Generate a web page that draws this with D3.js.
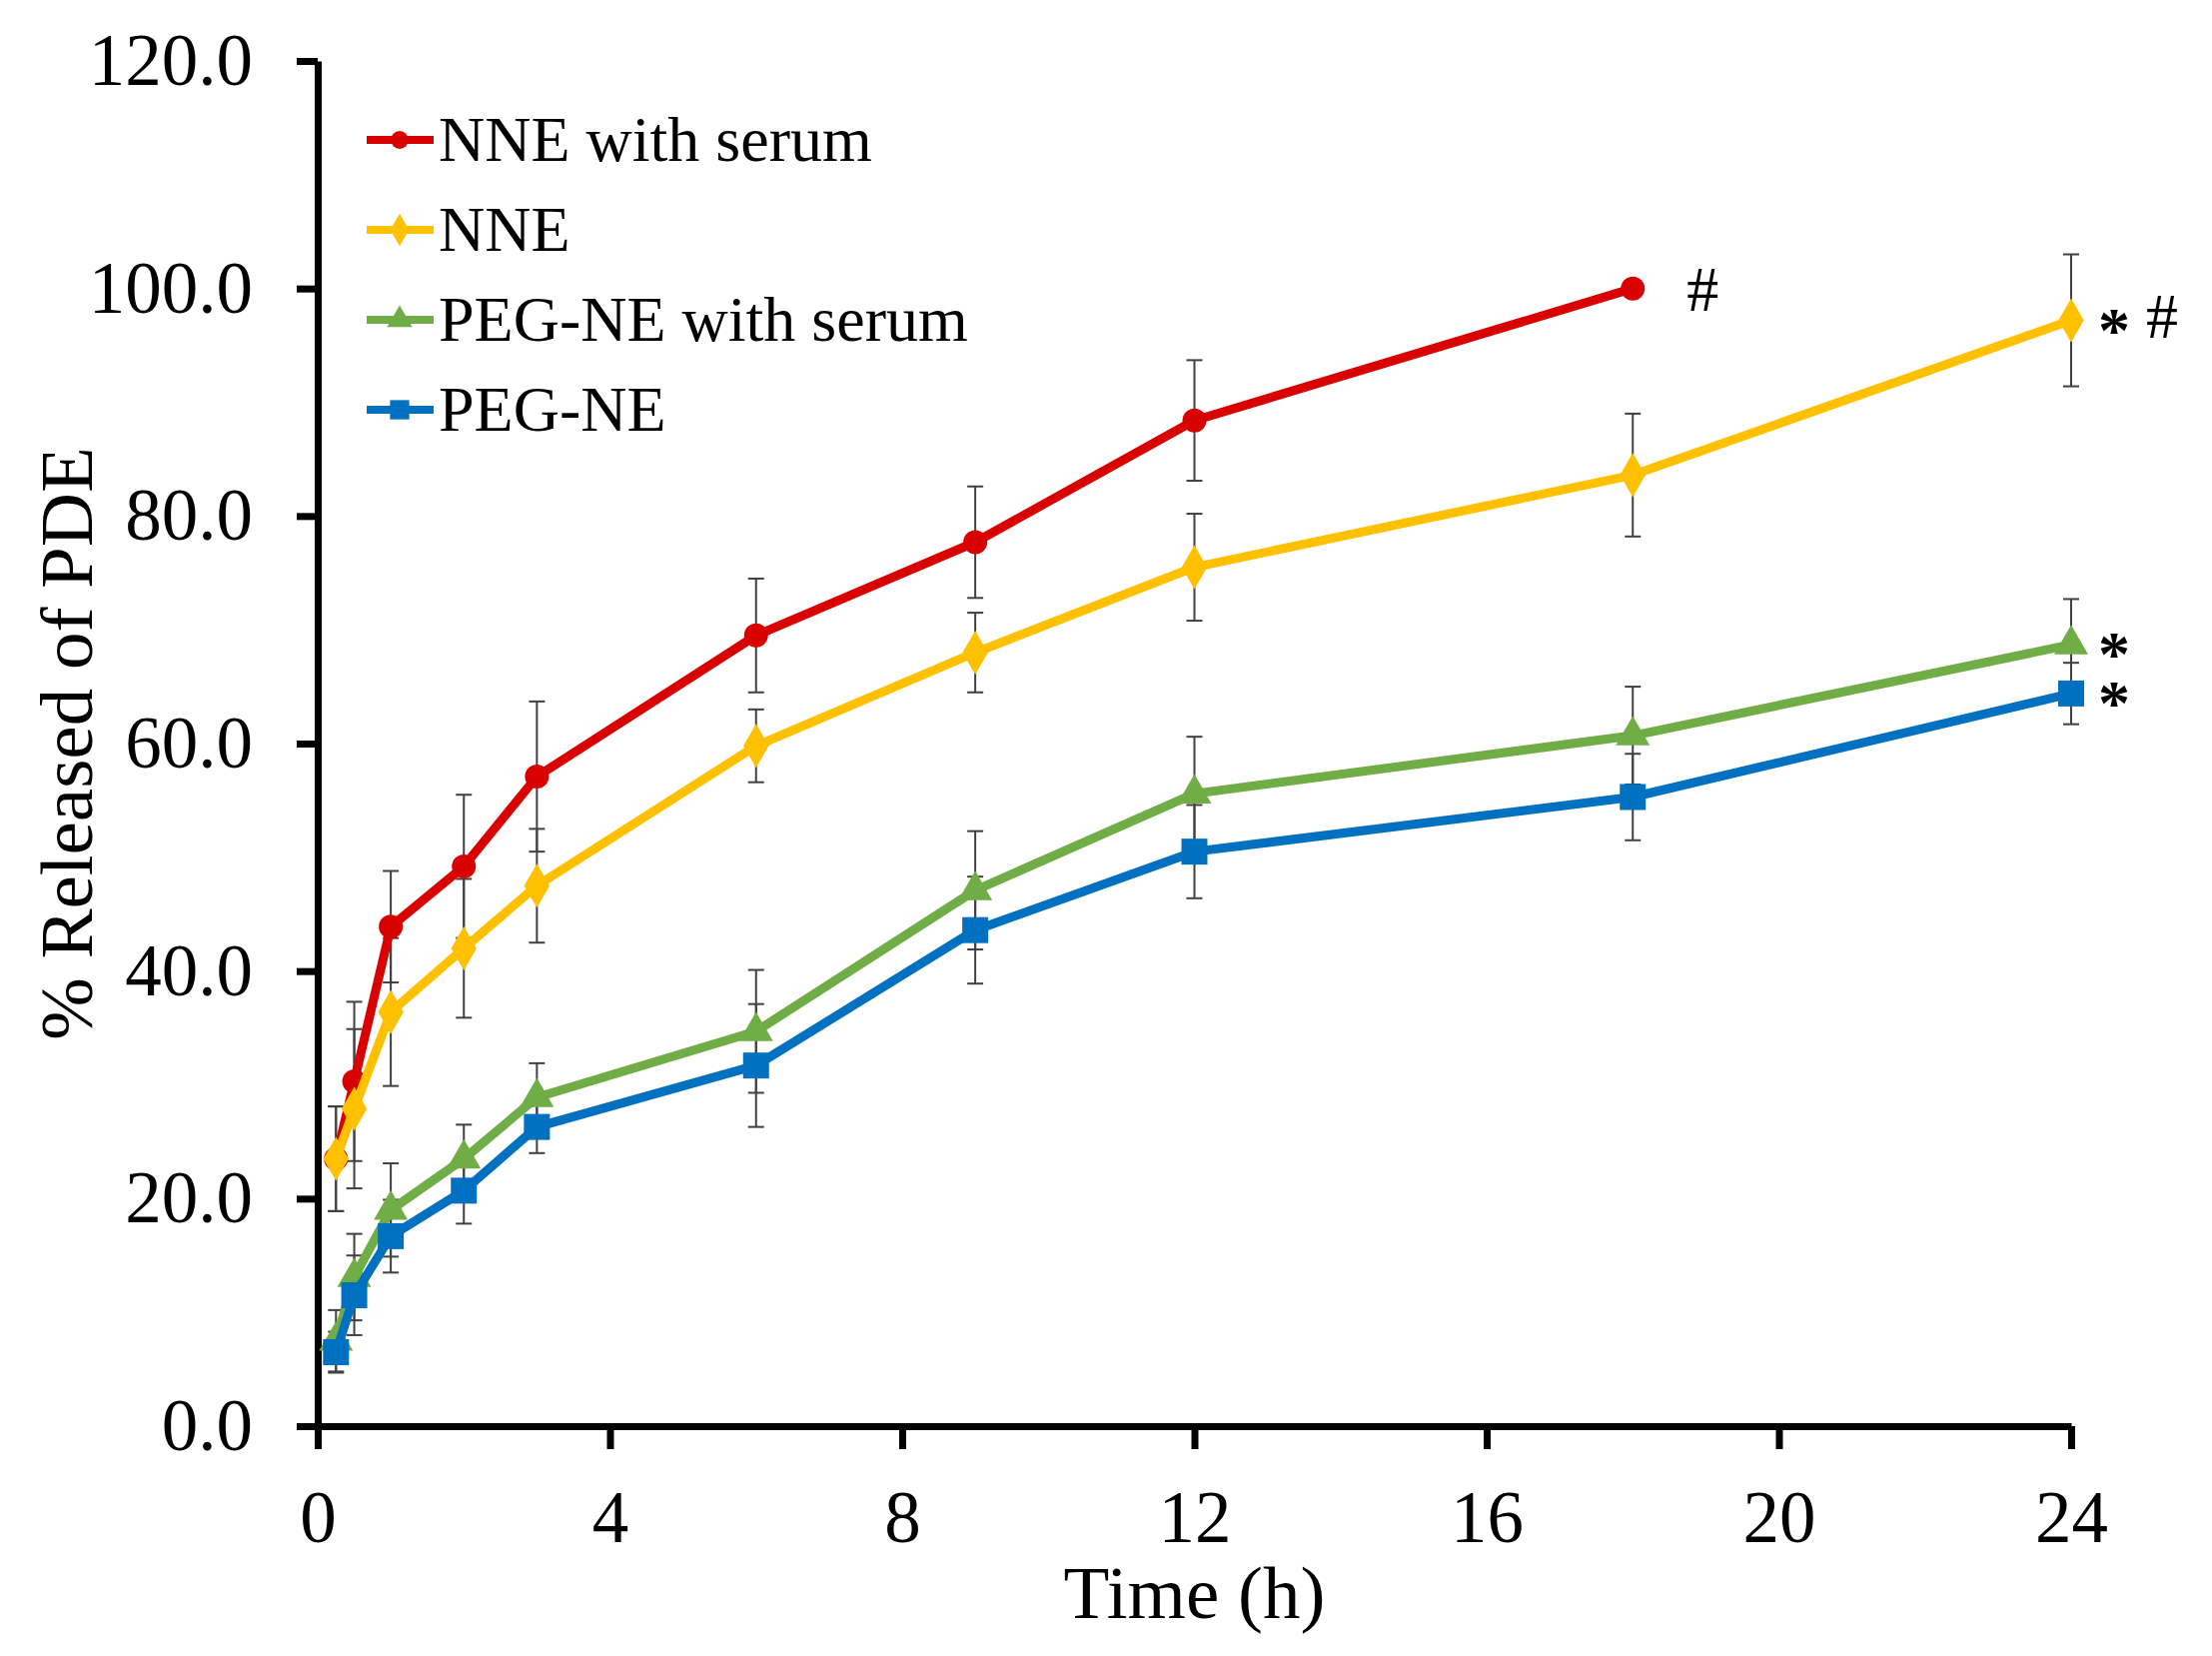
<!DOCTYPE html>
<html>
<head>
<meta charset="utf-8">
<script src="https://cdn.jsdelivr.net/npm/d3@7"></script>
<style>
  body { margin: 0; background: #fff; }
  svg { display: block; font-family: 'Liberation Serif', 'Times New Roman', serif; }
</style>
</head>
<body>
<script>
const w = 2214;
const h = 1657;

// sampling times (h)
const times = [0.25, 0.5, 1, 2, 3, 6, 9, 12, 18, 24];

const nneSerum = [23.5, 30.3, 43.9, 49.2, 57.1, 69.5, 77.7, 88.4, 100.0];
const nneSerumErr = [4.6, 7.0, 4.9, 6.3, 6.6, 5.0, 4.9, 5.3, 0];
const nne = [23.5, 27.9, 36.4, 42.0, 47.5, 59.8, 68.0, 75.5, 83.6, 97.2];
const nneErr = [4.6, 7.0, 6.5, 6.1, 5.0, 3.2, 3.5, 4.7, 5.4, 5.8];
const pegSerum = [7.5, 13.1, 19.0, 23.5, 28.9, 34.7, 47.1, 55.6, 60.7, 68.7];
const pegSerumErr = [2.7, 3.8, 4.1, 3.0, 3.0, 5.4, 5.2, 5.0, 4.3, 4.0];
const peg = [6.5, 11.5, 16.7, 20.7, 26.3, 31.7, 43.6, 50.5, 55.3, 64.4];
const pegErr = [1.8, 3.5, 3.2, 2.9, 2.3, 5.4, 4.7, 4.1, 3.8, 2.7];

const seriesNames = ['NNE with serum', 'NNE', 'PEG-NE with serum', 'PEG-NE'];
const seriesColors = ['#d90000', '#ffc000', '#70ad47', '#0070c0'];
const seriesSymbols = [d3.symbolCircle, d3.symbolDiamond, d3.symbolTriangle, d3.symbolSquare];
const seriesNotes = ['#', '* #', '*', '*'];

const xTicks = [0, 4, 8, 12, 16, 20, 24];
const yTicks = [0, 20, 40, 60, 80, 100, 120];

const series = [
  [nneSerum, nneSerumErr],
  [nne, nneErr],
  [pegSerum, pegSerumErr],
  [peg, pegErr],
].map(([vals, errs], i) => ({
  name: seriesNames[i],
  color: seriesColors[i],
  symbol: seriesSymbols[i],
  note: seriesNotes[i],
  points: vals.map((v, j) => ({ t: times[j], v, e: errs[j] })),
}));

const xScale = d3.scaleLinear().domain([0, 24]).range([318, 2073]);
const yScale = d3.scaleLinear().domain([0, 120]).range([1427, 61]);

const svg = d3
  .select('body')
  .append('svg')
  .attr('width', w)
  .attr('height', h);

svg.append('rect').attr('width', w).attr('height', h).attr('fill', '#fff');

// axes
const yAxis = d3
  .axisLeft(yScale)
  .tickValues(yTicks)
  .tickFormat(d3.format('.1f'))
  .tickSizeInner(21)
  .tickSizeOuter(0)
  .tickPadding(44);

const xAxis = d3
  .axisBottom(xScale)
  .tickValues(xTicks)
  .tickSizeInner(23)
  .tickSizeOuter(0)
  .tickPadding(41);

const gy = svg
  .append('g')
  .attr('transform', `translate(${xScale(0)},0)`)
  .call(yAxis);

const gx = svg
  .append('g')
  .attr('transform', `translate(0,${yScale(0)})`)
  .call(xAxis);

[gx, gy].forEach(g => {
  g.select('.domain').attr('stroke', '#000').attr('stroke-width', 7);
  g.selectAll('.tick line').attr('stroke', '#000').attr('stroke-width', 7);
  g.selectAll('.tick text')
    .attr('fill', '#000')
    .style('font-family', "'Liberation Serif', serif")
    .style('font-size', '73px');
});

// axis titles
svg
  .append('text')
  .attr('x', (xScale(0) + xScale(24)) / 2)
  .attr('y', 1619)
  .attr('text-anchor', 'middle')
  .style('font-size', '75px')
  .text('Time (h)');

svg
  .append('text')
  .attr('transform', `translate(92,${(yScale(0) + yScale(120)) / 2}) rotate(-90)`)
  .attr('text-anchor', 'middle')
  .style('font-size', '75px')
  .text('% Released of PDE');

// error bars, behind the lines
const errG = svg.append('g');
series.forEach(s => {
  const bars = errG
    .selectAll(null)
    .data(s.points.filter(p => p.e > 0))
    .enter()
    .append('g')
    .attr('stroke', '#404040')
    .attr('stroke-width', 2);
  bars
    .append('line')
    .attr('x1', d => xScale(d.t))
    .attr('x2', d => xScale(d.t))
    .attr('y1', d => yScale(d.v - d.e))
    .attr('y2', d => yScale(d.v + d.e));
  [-1, 1].forEach(sign => {
    bars
      .append('line')
      .attr('x1', d => xScale(d.t) - 8)
      .attr('x2', d => xScale(d.t) + 8)
      .attr('y1', d => yScale(d.v + sign * d.e))
      .attr('y2', d => yScale(d.v + sign * d.e));
  });
});

const line = d3
  .line()
  .x(d => xScale(d.t))
  .y(d => yScale(d.v));

const symbolSize = sym => {
  if (sym === d3.symbolCircle) return Math.PI * 12 * 12;
  if (sym === d3.symbolSquare) return 26 * 26;
  if (sym === d3.symbolDiamond) return 560;
  return 500;
};

series.forEach(s => {
  const g = svg.append('g');
  g.append('path')
    .datum(s.points)
    .attr('d', line)
    .attr('fill', 'none')
    .attr('stroke', s.color)
    .attr('stroke-width', 9)
    .attr('stroke-linejoin', 'round');
  g.selectAll('path.mark')
    .data(s.points)
    .enter()
    .append('path')
    .attr('class', 'mark')
    .attr('transform', d => `translate(${xScale(d.t)},${yScale(d.v)})`)
    .attr('d', d3.symbol().type(s.symbol).size(symbolSize(s.symbol)))
    .attr('fill', s.color);
});

// significance marks at the last point of each series
const noteX = 2116;
series.forEach(s => {
  const last = s.points[s.points.length - 1];
  const cy = yScale(last.v);
  if (s.note === '#') {
    svg.append('text')
      .attr('x', xScale(last.t) + 70)
      .attr('y', cy + 22)
      .attr('text-anchor', 'middle')
      .style('font-size', '64px')
      .text('#');
  } else {
    svg.append('text')
      .attr('x', noteX)
      .attr('y', cy + 31)
      .attr('text-anchor', 'middle')
      .style('font-size', '64px')
      .style('font-weight', 'bold')
      .text('*');
    if (s.note.includes('#')) {
      svg.append('text')
        .attr('x', noteX + 48)
        .attr('y', cy + 17)
        .attr('text-anchor', 'middle')
        .style('font-size', '64px')
        .text('#');
    }
  }
});

// legend
const legend = svg
  .append('g')
  .selectAll('g')
  .data(series)
  .enter()
  .append('g')
  .attr('transform', (d, i) => `translate(367,${140 + i * 90})`);

legend
  .append('line')
  .attr('x1', 0)
  .attr('x2', 67)
  .attr('stroke', d => d.color)
  .attr('stroke-width', 8);

legend
  .append('path')
  .attr('transform', 'translate(33,0)')
  .attr('d', d => d3.symbol().type(d.symbol).size(symbolSize(d.symbol) * 0.55)())
  .attr('fill', d => d.color);

legend
  .append('text')
  .attr('x', 72)
  .attr('y', 21)
  .style('font-size', '64px')
  .text(d => d.name);
</script>
</body>
</html>
